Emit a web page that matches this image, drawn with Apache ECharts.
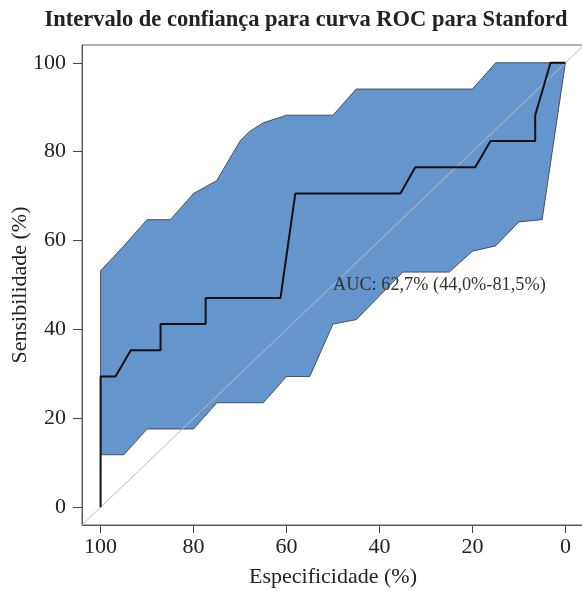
<!DOCTYPE html>
<html>
<head>
<meta charset="utf-8">
<script src="https://cdn.jsdelivr.net/npm/echarts@6/dist/echarts.min.js"></script>
<style>html,body{margin:0;padding:0;background:#fff}#c{width:582px;height:591px}</style>
</head>
<body>
<div id="c"></div>
<script>
// ROC curve (specificity %, sensitivity %)
var specROC = [100, 100, 96.8, 93.5, 87.1, 87.1, 77.4, 77.4, 61.3, 58.1, 35.5, 32.3, 19.4, 16.1, 6.5, 6.5, 3.2, 0];
var sensROC = [0, 29.4, 29.4, 35.3, 35.3, 41.2, 41.2, 47.1, 47.1, 70.6, 70.6, 76.5, 76.5, 82.4, 82.4, 88.2, 100, 100];
// Confidence band upper bound
var specUpper = [100, 95, 90, 85, 80, 75, 70, 68, 65, 60, 50, 45, 20, 15, 0];
var sensUpper = [53.2, 58.8, 64.7, 64.7, 70.6, 73.5, 82.4, 84.5, 86.5, 88.2, 88.2, 94.1, 94.1, 100, 100];
// Confidence band lower bound
var specLower = [100, 95, 90, 80, 75, 65, 60, 55, 50, 45, 35, 25, 20, 15, 10, 5, 0];
var sensLower = [11.8, 11.8, 17.6, 17.6, 23.5, 23.5, 29.4, 29.4, 41.2, 42.2, 52.9, 52.9, 57.6, 58.8, 64.2, 64.7, 100];
// Chance diagonal
var diagSpec = [104, -4];
var diagSens = [-4, 104];
// Tick values
var tickValues = [0, 20, 40, 60, 80, 100];
// Annotation
var aucText = 'AUC: 62,7% (44,0%-81,5%)';
var aucPos = [50, 50];

var titleText = 'Intervalo de confiança para curva ROC para Stanford';
var xName = 'Especificidade (%)';
var yName = 'Sensibilidade (%)';

function zip(a, b) { return a.map(function (v, i) { return [v, b[i]]; }); }

var FONT = 'Liberation Serif';
var chart = echarts.init(document.getElementById('c'), null, { renderer: 'canvas' });

var upperPts = zip(specUpper, sensUpper);
var lowerPts = zip(specLower, sensLower);

chart.setOption({
  animation: false,
  backgroundColor: '#fff',
  title: {
    text: titleText,
    left: 301,
    textAlign: 'center',
    top: 4,
    textStyle: { fontFamily: FONT, fontWeight: 'bold', fontSize: 22.5, color: '#222' }
  },
  grid: {
    left: 82, top: 45, width: 502, height: 480,
    outerBoundsMode: 'none', containLabel: false,
    show: true, borderColor: '#666', borderWidth: 1, backgroundColor: 'transparent'
  },
  xAxis: {
    type: 'value', inverse: true, min: -4, max: 104,
    name: xName, nameLocation: 'middle', nameGap: 41, nameMoveOverlap: false,
    nameTextStyle: { fontFamily: FONT, fontSize: 22, color: '#222' },
    axisLine: { show: true, onZero: false, lineStyle: { color: '#555', width: 1 } },
    axisTick: { show: true, customValues: tickValues, length: 8, lineStyle: { color: '#444' } },
    axisLabel: { customValues: tickValues, fontFamily: FONT, fontSize: 22, color: '#222', margin: 11 },
    splitLine: { show: false }
  },
  yAxis: {
    type: 'value', min: -4, max: 104,
    name: yName, nameLocation: 'middle', nameGap: 51, nameMoveOverlap: false,
    nameTextStyle: { fontFamily: FONT, fontSize: 22, color: '#222' },
    axisLine: { show: true, onZero: false, lineStyle: { color: '#555', width: 1 } },
    axisTick: { show: true, customValues: tickValues, length: 9, lineStyle: { color: '#444' } },
    axisLabel: { customValues: tickValues, fontFamily: FONT, fontSize: 22, color: '#222', margin: 16 },
    splitLine: { show: false }
  },
  series: [
    {
      type: 'custom',
      z: 1,
      silent: true,
      data: [[50, 50]],
      renderItem: function (params, api) {
        if (params.dataIndex !== 0) return null;
        var pts = upperPts.map(function (p) { return api.coord(p); });
        var low = lowerPts.slice().reverse().map(function (p) { return api.coord(p); });
        pts = pts.concat(low);
        return {
          type: 'polygon',
          shape: { points: pts },
          style: { fill: '#6595CD', stroke: '#333', lineWidth: 0.8 }
        };
      }
    },
    {
      type: 'line',
      z: 2,
      silent: true,
      data: zip(diagSpec, diagSens),
      symbol: 'none',
      lineStyle: { color: '#bcbcbc', width: 1 }
    },
    {
      type: 'custom',
      z: 3,
      silent: true,
      data: [aucPos],
      renderItem: function (params, api) {
        var p = api.coord([api.value(0), api.value(1)]);
        return {
          type: 'text',
          x: p[0], y: p[1],
          style: {
            text: aucText, fill: '#333', font: '18.3px "' + FONT + '"',
            textAlign: 'left', textVerticalAlign: 'middle'
          }
        };
      }
    },
    {
      type: 'line',
      z: 4,
      silent: true,
      data: zip(specROC, sensROC),
      symbol: 'none',
      lineStyle: { color: '#111', width: 2 }
    }
  ]
});
</script>
</body>
</html>
